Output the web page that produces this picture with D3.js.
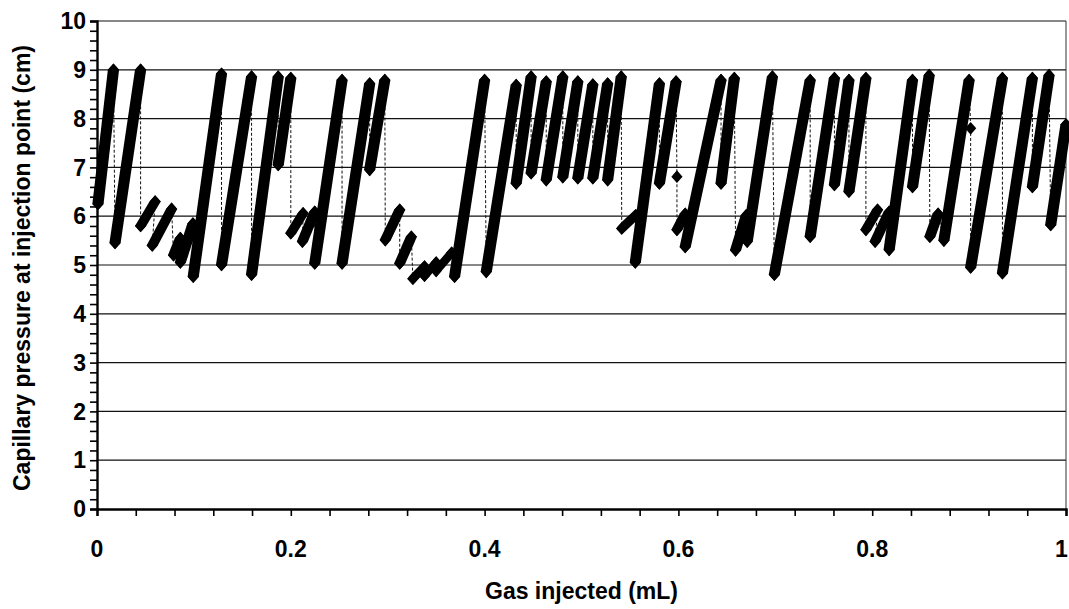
<!DOCTYPE html>
<html>
<head>
<meta charset="utf-8">
<script src="https://cdn.jsdelivr.net/npm/d3@7"></script>
<style>
  body { margin: 0; background: #fff; }
  svg { display: block; }
  text { font-family: Arial, "Liberation Sans", sans-serif; font-weight: bold; fill: #000; }
</style>
</head>
<body>
<svg id="chart" width="1069" height="609"></svg>
<script>
// Injection record: gas volume (mL) and capillary pressure (cm), in order of acquisition
const gasInjected = [
  0.001, 0.017,
  0.0186, 0.045,
  0.045, 0.060,
  0.057, 0.077,
  0.079, 0.086,
  0.086, 0.099,
  0.0993, 0.1285,
  0.1285, 0.1595,
  0.1595, 0.187,
  0.187, 0.200,
  0.200, 0.2127,
  0.212, 0.2247,
  0.2247, 0.2529,
  0.2529, 0.2814,
  0.2814, 0.297,
  0.2975, 0.3124,
  0.3124, 0.3244,
  0.326, 0.338,
  0.338, 0.350,
  0.350, 0.366,
  0.369, 0.400,
  0.4017, 0.4326,
  0.4326, 0.448,
  0.448, 0.4636,
  0.4636, 0.4807,
  0.4807, 0.4962,
  0.4962, 0.5117,
  0.5117, 0.527,
  0.527, 0.541,
  0.5415, 0.556,
  0.5555, 0.5804,
  0.5804, 0.5976,
  0.5985,
  0.5985, 0.607,
  0.607, 0.644,
  0.644, 0.6577,
  0.659, 0.670,
  0.671, 0.697,
  0.699, 0.736,
  0.736, 0.761,
  0.761, 0.776,
  0.776, 0.7935,
  0.7935, 0.8055,
  0.803, 0.8175,
  0.8175, 0.8416,
  0.8416, 0.8588,
  0.8595, 0.868,
  0.874, 0.900,
  0.9016,
  0.9016, 0.9344,
  0.9344, 0.9653,
  0.9653, 0.9825,
  0.9842, 1.000
];
const capPressure = [
  6.25, 9.00,
  5.45, 9.00,
  5.80, 6.30,
  5.40, 6.15,
  5.20, 5.55,
  5.05, 5.85,
  4.76, 8.92,
  5.00, 8.86,
  4.80, 8.86,
  7.05, 8.83,
  5.65, 6.06,
  5.48, 6.09,
  5.03, 8.79,
  5.03, 8.72,
  6.95, 8.79,
  5.51, 6.13,
  5.03, 5.58,
  4.72, 4.97,
  4.78, 5.05,
  4.88, 5.25,
  4.76, 8.79,
  4.86, 8.69,
  6.67, 8.86,
  6.88, 8.76,
  6.74, 8.86,
  6.80, 8.76,
  6.78, 8.70,
  6.78, 8.72,
  6.74, 8.86,
  5.75, 6.02,
  5.05, 8.72,
  6.67, 8.76,
  6.81,
  5.72, 6.05,
  5.37, 8.79,
  6.67, 8.83,
  5.30, 6.02,
  5.48, 8.86,
  4.80, 8.79,
  5.58, 8.83,
  6.64, 8.79,
  6.50, 8.83,
  5.72, 6.13,
  5.48, 6.09,
  5.31, 8.79,
  6.60, 8.89,
  5.58, 6.05,
  5.50, 8.79,
  7.80,
  4.95, 8.83,
  4.83, 8.83,
  6.60, 8.89,
  5.82, 7.88
];

const xTickValues = [0, 0.2, 0.4, 0.6, 0.8, 1];
const xTickLabels = ["0", "0.2", "0.4", "0.6", "0.8", "1"];
const yTickValues = [0, 1, 2, 3, 4, 5, 6, 7, 8, 9, 10];
const yTickLabels = ["0", "1", "2", "3", "4", "5", "6", "7", "8", "9", "10"];
const xMinorCount = 25;   // minor ticks every 0.04 mL
const yMinorCount = 50;   // minor ticks every 0.2 cm

const xTitle = "Gas injected (mL)";
const yTitle = "Capillary pressure at injection point (cm)";

const W = 1069;
const svg = d3.select("#chart");
const plot = { left: 97, right: 1066, top: 21, bottom: 509 };
const fontSize = 23;

const x = d3.scaleLinear().domain([0, 1]).range([plot.left, plot.right]);
const y = d3.scaleLinear().domain([0, 10]).range([plot.bottom, plot.top]);

// horizontal gridlines
svg.append("g")
  .selectAll("line")
  .data(yTickValues.slice(1))
  .join("line")
  .attr("x1", plot.left).attr("x2", plot.right)
  .attr("y1", d => y(d)).attr("y2", d => y(d))
  .attr("stroke", "#111").attr("stroke-width", 1.2);

// right frame edge
svg.append("line")
  .attr("x1", plot.right).attr("x2", plot.right)
  .attr("y1", plot.top).attr("y2", plot.bottom)
  .attr("stroke", "#333").attr("stroke-width", 1);

// minor + major ticks
const yTicksAll = d3.range(yMinorCount + 1).map(i => i * 10 / yMinorCount);
const xTicksAll = d3.range(xMinorCount + 1).map(i => i / xMinorCount);

svg.append("g")
  .attr("transform", `translate(${plot.left},0)`)
  .call(d3.axisLeft(y).tickValues(yTicksAll).tickSize(7).tickFormat(""))
  .call(g => g.selectAll("line").attr("stroke", "#000").attr("stroke-width", 1.6))
  .call(g => g.select(".domain").attr("stroke", "#000").attr("stroke-width", 2.4));

svg.append("g")
  .attr("transform", `translate(0,${plot.bottom})`)
  .call(d3.axisBottom(x).tickValues(xTicksAll).tickSize(7).tickFormat(""))
  .call(g => g.selectAll("line").attr("stroke", "#000").attr("stroke-width", 1.6))
  .call(g => g.select(".domain").attr("stroke", "#000").attr("stroke-width", 2.4));

// tick labels
svg.append("g")
  .selectAll("text")
  .data(yTickValues)
  .join("text")
  .attr("x", 86)
  .attr("y", d => y(d))
  .attr("dy", "0.36em")
  .attr("text-anchor", "end")
  .attr("font-size", fontSize)
  .text((d, i) => yTickLabels[i]);

svg.append("g")
  .selectAll("text")
  .data(xTickValues)
  .join("text")
  .attr("x", d => x(d))
  .attr("y", 557)
  .attr("text-anchor", "middle")
  .attr("font-size", fontSize)
  .text((d, i) => xTickLabels[i])
  .each(function () {
    // keep the last label inside the canvas
    const b = this.getBBox();
    const over = b.x + b.width - (W - 1);
    if (over > 0) d3.select(this).attr("x", +d3.select(this).attr("x") - over);
  });

// axis titles
svg.append("text")
  .attr("x", (plot.left + plot.right) / 2)
  .attr("y", 599)
  .attr("text-anchor", "middle")
  .attr("font-size", fontSize)
  .text(xTitle);

svg.append("text")
  .attr("transform", `translate(30,${(plot.top + plot.bottom) / 2 + 3}) rotate(-90)`)
  .attr("text-anchor", "middle")
  .attr("font-size", fontSize)
  .text(yTitle);

// data series
const pts = gasInjected.map((g, i) => [x(g), y(capPressure[i])]);

// thin dotted connector through every reading
svg.append("path")
  .attr("d", d3.line()(pts))
  .attr("fill", "none")
  .attr("stroke", "#111")
  .attr("stroke-width", 1)
  .attr("stroke-dasharray", "3,2");

// diamond marker outline
const hw = 5.6, hh = 6.3;
const diamondCorners = ([px, py]) => [[px, py - hh], [px + hw, py], [px, py + hh], [px - hw, py]];

// densely sampled pressure build-ups: swept diamond between consecutive rising readings
const rises = [];
for (let i = 0; i < pts.length - 1; i++) {
  if (capPressure[i + 1] > capPressure[i]) {
    rises.push(d3.polygonHull(diamondCorners(pts[i]).concat(diamondCorners(pts[i + 1]))));
  }
}
svg.append("g")
  .selectAll("path")
  .data(rises)
  .join("path")
  .attr("d", d => "M" + d.join("L") + "Z")
  .attr("fill", "#000");

// diamond markers at each reading
svg.append("g")
  .selectAll("path")
  .data(pts)
  .join("path")
  .attr("d", d => "M" + diamondCorners(d).join("L") + "Z")
  .attr("fill", "#000");
</script>
</body>
</html>
